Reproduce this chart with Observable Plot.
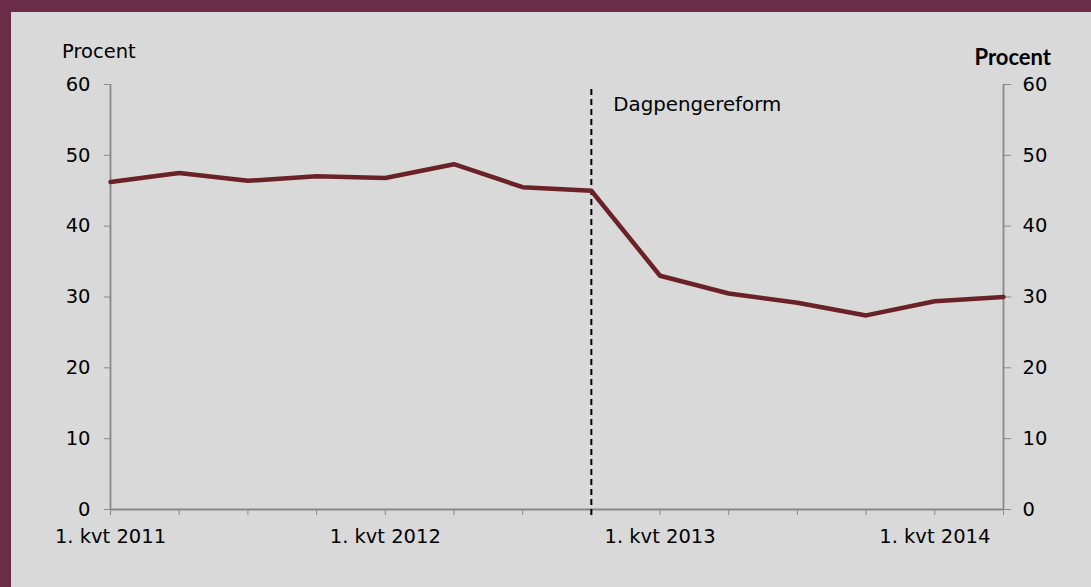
<!DOCTYPE html>
<html><head><meta charset="utf-8">
<script src="https://cdn.jsdelivr.net/npm/d3@7"></script>
<script src="https://cdn.jsdelivr.net/npm/@observablehq/plot@0.6"></script>
<style>
html,body{margin:0;padding:0;background:#d9d9d9;}
#wrap{position:relative;width:1091px;height:587px;background:#d9d9d9;overflow:hidden;font-family:"DejaVu Sans",sans-serif;}
#chart{position:absolute;left:0;top:0;}
#bt{position:absolute;left:0;top:0;width:1091px;height:12px;background:#6b2c47;}
#bl{position:absolute;left:0;top:0;width:11px;height:587px;background:#6b2c47;}
#yl{position:absolute;left:62px;top:42px;font-size:19.5px;line-height:19.5px;color:#000;white-space:nowrap;}
#yr{position:absolute;right:40px;top:46px;font-family:Lato,sans-serif;font-weight:bold;font-size:22px;line-height:22px;color:#000;white-space:nowrap;}
</style></head><body>
<div id="wrap"><div id="chart"></div><div id="bt"></div><div id="bl"></div>
<div id="yl">Procent</div><div id="yr">Procent</div></div>
<script>
const quarters = ["1. kvt 2011","2. kvt 2011","3. kvt 2011","4. kvt 2011",
  "1. kvt 2012","2. kvt 2012","3. kvt 2012","4. kvt 2012",
  "1. kvt 2013","2. kvt 2013","3. kvt 2013","4. kvt 2013",
  "1. kvt 2014","2. kvt 2014"];
const values = [46.25,47.5,46.4,47.05,46.8,48.75,45.5,45.0,33.0,30.5,29.2,27.4,29.4,30.0];
const xTickLabels = ["1. kvt 2011","1. kvt 2012","1. kvt 2013","1. kvt 2014"];
const yTicks = [0,10,20,30,40,50,60];
const reformQuarter = "4. kvt 2012";
const reformLabel = "Dagpengereform";

const data = quarters.map((q,i)=>({q, v: values[i]}));
const axisGray = "#898989";

const chart = Plot.plot({
  width: 1091, height: 587,
  marginLeft: 110, marginRight: 88, marginTop: 84, marginBottom: 78,
  style: {background: "transparent", fontFamily: "DejaVu Sans", fontSize: "19.5px", color: "#000"},
  x: {type: "point", domain: quarters, padding: 0, round: false, inset: 0},
  y: {domain: [0, 60]},
  marks: [
    Plot.axisY(yTicks, {anchor: "left", tickSize: 6, tickPadding: 14, stroke: axisGray, fill: "#000", label: null}),
    Plot.axisY(yTicks, {anchor: "right", tickSize: 7, tickPadding: 12, stroke: axisGray, fill: "#000", label: null}),
    Plot.axisX(quarters, {anchor: "bottom", tickSize: 6, tickPadding: 14, stroke: axisGray, fill: "#000", label: null,
      fontSize: 19.5, tickFormat: d => xTickLabels.includes(d) ? d : ""}),
    Plot.ruleX([quarters[0], quarters[quarters.length-1]], {stroke: axisGray, strokeWidth: 1.8}),
    Plot.ruleY([0], {stroke: axisGray, strokeWidth: 1.8}),
    Plot.ruleX([reformQuarter], {stroke: "#000", strokeWidth: 2, strokeDasharray: "6,4", insetTop: 5, insetBottom: -9}),
    Plot.line(data, {x: "q", y: "v", stroke: "#6b2226", strokeWidth: 4.5}),
    Plot.text([reformLabel], {x: [reformQuarter], frameAnchor: "top", text: d => d, textAnchor: "start",
      lineAnchor: "middle", dx: 22, dy: 20, fontSize: 19.8, fill: "#000"})
  ]
});
document.getElementById("chart").appendChild(chart);
</script>
</body></html>
